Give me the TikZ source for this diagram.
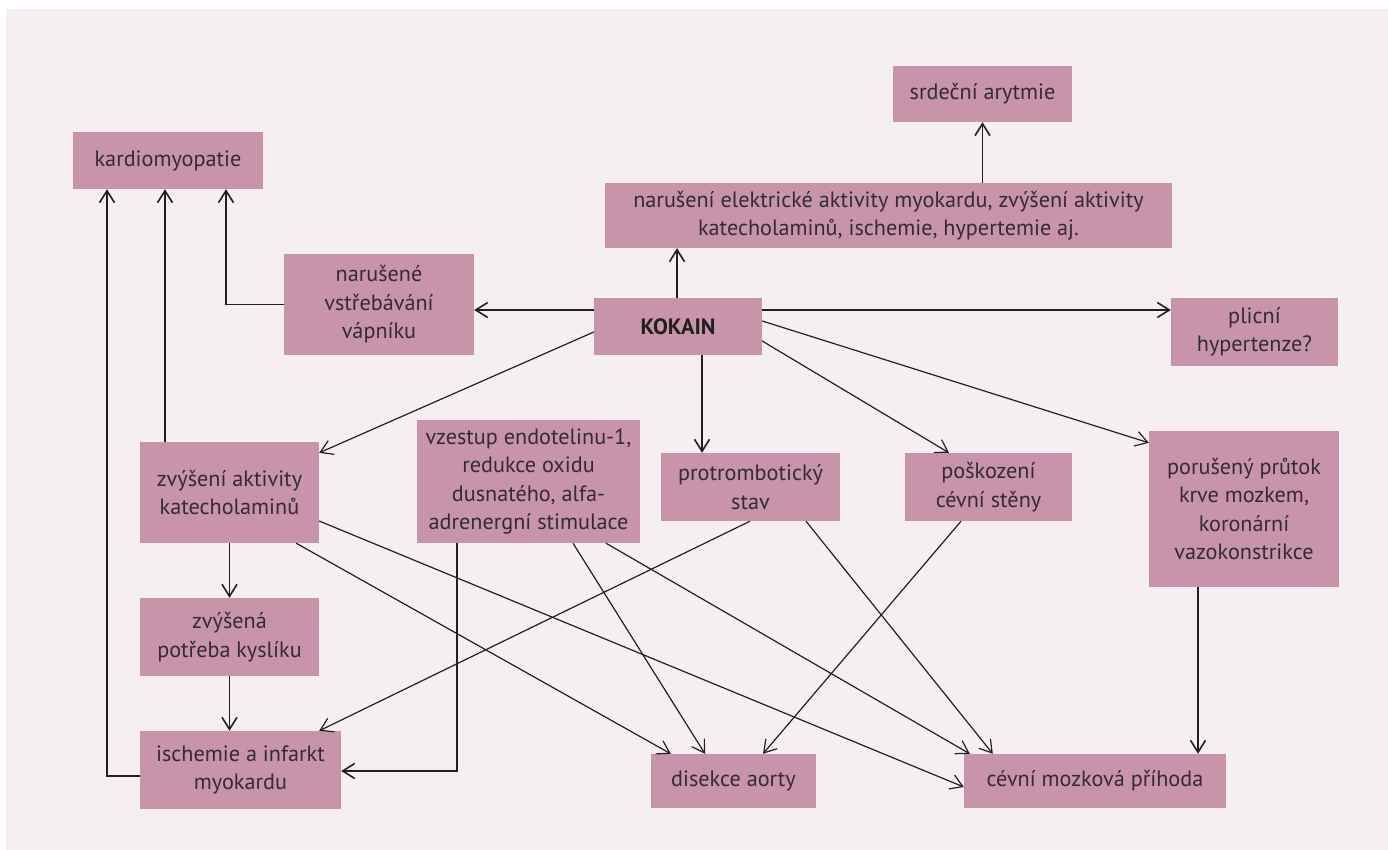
\documentclass[tikz,border=0pt]{standalone}
\usepackage{fontspec}
\setmainfont{PT Sans}
\usetikzlibrary{arrows.meta,calc}
\definecolor{bgc}{HTML}{F5EFF2}
\definecolor{boxc}{HTML}{C794AA}
\definecolor{txt}{HTML}{352B31}
\definecolor{ln}{HTML}{231F20}
\begin{document}
\begin{tikzpicture}[x=1pt,y=-1pt,
  box/.style={fill=boxc, draw=none, inner sep=0pt, align=center, text=txt, font=\fontsize{22.2}{28.5}\selectfont},
  bx/.style 2 args={box, minimum width=#1pt, minimum height=#2pt},
  orth/.style={draw=ln, line width=1.6pt, -{Straight Barb[length=12pt,width=15pt]}},
  diag/.style={draw=ln, line width=1.2pt, -{Straight Barb[length=12pt,width=15pt]}}]
\useasboundingbox (0,0) rectangle (1388,849);
\fill[white] (0,0) rectangle (1388,849);
\fill[bgc] (6,9) rectangle (1389,850);

\node[bx={179}{56}] (ar) at (982.5,94) {srdeční arytmie};
\node[bx={567}{65}] (el) at (888.5,215.5) {narušení elektrické aktivity myokardu, zvýšení aktivity\\katecholaminů, ischemie, hypertemie aj.};
\node[bx={190}{57}] (km) at (168,160.5) {kardiomyopatie};
\node[bx={190}{101}] (ca) at (379,304.5) {narušené\\vstřebávání\\vápníku};
\node[bx={168}{57}, text=ln] (ko) at (678,326.5) {\bfseries KOKAIN};
\node[bx={167}{68}] (pl) at (1254.5,332) {plicní\\hypertenze?};
\node[bx={179}{101}] (za) at (229.5,492.5) {zvýšení aktivity\\katecholaminů};
\node[bx={223}{123}] (ve) at (528.5,481.5) {vzestup endotelinu-1,\\redukce oxidu\\dusnatého, alfa-\\adrenergní stimulace};
\node[bx={179}{68}] (pt) at (750.5,487) {protrombotický\\stav};
\node[bx={167}{68}] (ps) at (988.5,487) {poškození\\cévní stěny};
\node[bx={190}{156}] (pp) at (1244,509) {porušený průtok\\krve mozkem,\\koronární\\vazokonstrikce};
\node[bx={179}{78}] (zp) at (229.5,637) {zvýšená\\potřeba kyslíku};
\node[bx={201}{78}] (is) at (240.5,770) {ischemie a infarkt\\myokardu};
\node[bx={165}{54}] (da) at (733.5,781) {disekce aorty};
\node[bx={262}{54}] (cm) at (1095,781) {cévní mozková příhoda};

% orthogonal connectors
\draw[orth] ([xshift=-1pt]ko.north) -- ([xshift=-1pt]ko.north |- el.south);
\draw[orth] (ar.south |- el.north) -- (ar.south);
\draw[orth] ([yshift=16.5pt]ko.west) -- ([yshift=16.5pt]ko.west -| ca.east);
\draw[orth] ([yshift=16.5pt]ko.east) -- ([yshift=16.5pt]ko.east -| pl.west);
\draw[orth] (ca.west) -| ([xshift=58pt]km.south);
\draw[orth] ([xshift=24pt]ko.south) -- ([xshift=24pt]ko.south |- pt.north);
\draw[orth] ([xshift=-64.5pt]za.north) -- ([xshift=-64.5pt]za.north |- km.south);
\draw[orth] ([yshift=-6pt]is.west) -| ([xshift=-61pt]km.south);
\draw[orth] (za.south) -- (zp.north);
\draw[orth] (zp.south) -- (zp.south |- is.north);
\draw[orth] ([xshift=-71.5pt]ve.south) |- ([yshift=-1pt]is.east);
\draw[orth] ([xshift=-46pt]pp.south) -- ([xshift=-46pt]pp.south |- cm.north);

% diagonal connectors
\draw[diag] ([yshift=-5.5pt]ko.west) -- ([yshift=-11pt]za.north east);
\draw[diag] ([yshift=-14.5pt]ko.east) -- ([xshift=-39.5pt]ps.north);
\draw[diag] ([yshift=5.5pt]ko.east) -- ([yshift=-12pt]pp.north west);
\draw[diag] ([xshift=-23pt]za.south east) -- ([xshift=20pt]da.north west);
\draw[diag] ([yshift=-28.5pt]za.east) -- ([yshift=-6pt]cm.west);
\draw[diag] ([xshift=44.5pt]ve.south) -- ([xshift=-28.5pt]da.north);
\draw[diag] ([xshift=77.5pt]ve.south) -- ([xshift=6pt]cm.north west);
\draw[diag] ([xshift=-0.5pt]pt.south) -- ([xshift=-22pt]is.north east);
\draw[diag] ([xshift=55.5pt]pt.south) -- ([xshift=29pt]cm.north west);
\draw[diag] ([xshift=-27.5pt]ps.south) -- ([xshift=29.5pt]da.north);
\end{tikzpicture}
\end{document}
